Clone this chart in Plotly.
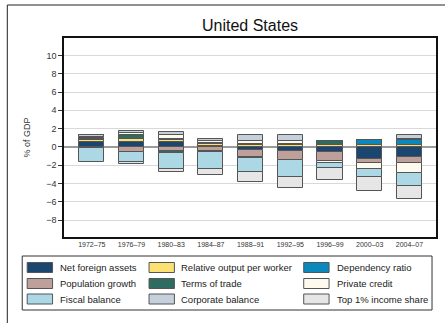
import plotly.graph_objects as go

# Contributions to the current account, % of GDP, by period
periods = ["1972–75", "1976–79", "1980–83", "1984–87", "1988–91",
           "1992–95", "1996–99", "2000–03", "2004–07"]

net_foreign_assets = [0.50, 0.55, 0.50, 0.05, -0.35, -0.45, -0.60, -1.35, -1.15]
relative_output    = [0.30, 0.30, 0.30, 0.30, 0.25, 0.20, 0.20, 0.20, 0.25]
dependency_ratio   = [0.05, 0.05, 0.10, 0.05, 0.05, 0.05, 0.05, 0.55, 0.50]
population_growth  = [-0.15, -0.60, -0.40, -0.40, -0.70, -1.00, -0.90, -0.45, -0.60]
terms_of_trade     = [0.10, 0.40, -0.30, -0.20, -0.15, 0.10, 0.35, 0.00, 0.15]
private_credit     = [0.15, 0.25, 0.35, 0.30, 0.30, 0.35, -0.25, -0.60, -1.15]
fiscal_balance     = [-1.45, -1.10, -1.70, -1.85, -1.50, -1.80, -0.50, -0.90, -1.35]
corporate_balance  = [0.25, 0.20, 0.35, 0.15, 0.65, 0.55, 0.00, 0.00, 0.35]
top1_income_share  = [0.00, -0.15, -0.30, -0.60, -1.15, -1.25, -1.40, -1.55, -1.40]

series_names = ["Net foreign assets", "Relative output per worker", "Dependency ratio",
                "Population growth", "Terms of trade", "Private credit",
                "Fiscal balance", "Corporate balance", "Top 1% income share"]
series_values = [net_foreign_assets, relative_output, dependency_ratio,
                 population_growth, terms_of_trade, private_credit,
                 fiscal_balance, corporate_balance, top1_income_share]
series_colors = ["#1b4670", "#fbe072", "#0b89bd",
                 "#bf9f9a", "#2e6b61", "#fffaee",
                 "#acd8e5", "#c6d0dc", "#e6e6e6"]

FONT = "Liberation Sans, Arial, sans-serif"
W, H = 445, 323
L, R, T, B = 64, 438, 38, 237   # plot area in pixels


def px_x(x):
    return (x - L) / (R - L)


def px_y(y):
    return (B - y) / (B - T)


fig = go.Figure()
for name, vals, col in zip(series_names, series_values, series_colors):
    fig.add_trace(go.Bar(
        x=periods, y=vals, name=name, width=0.63,
        marker=dict(color=col, line=dict(color="#555555", width=1)),
        showlegend=False,
    ))

shapes = []
annotations = []

# outer frame (top and left edges)
shapes.append(dict(type="line", xref="paper", yref="paper",
                   x0=px_x(7), x1=px_x(W + 5), y0=px_y(5), y1=px_y(5),
                   line=dict(color="#222222", width=1)))
shapes.append(dict(type="line", xref="paper", yref="paper",
                   x0=px_x(7), x1=px_x(7), y0=px_y(5), y1=px_y(H + 5),
                   line=dict(color="#222222", width=1)))

# legend box
shapes.append(dict(type="rect", xref="paper", yref="paper",
                   x0=px_x(22), x1=px_x(434), y0=px_y(310), y1=px_y(256),
                   line=dict(color="#333333", width=1), fillcolor="white"))

# legend entries: 3 columns x 3 rows, filled row by row
col_swatch_x = [27, 149.5, 305]
col_text_x = [58, 180, 336]
row_y = [267.5, 283.5, 299]
for i, (name, col) in enumerate(zip(series_names, series_colors)):
    r, c = divmod(i, 3)
    sx = col_swatch_x[c]
    cy = row_y[r]
    shapes.append(dict(type="rect", xref="paper", yref="paper",
                       x0=px_x(sx), x1=px_x(sx + 25.5),
                       y0=px_y(cy + 5), y1=px_y(cy - 5),
                       fillcolor=col, line=dict(color="#555555", width=1)))
    annotations.append(dict(xref="paper", yref="paper",
                            x=px_x(col_text_x[c]), y=px_y(cy),
                            xanchor="left", yanchor="middle", showarrow=False,
                            text=name, font=dict(family=FONT, size=9.5, color="#222222")))

fig.update_layout(
    width=W, height=H,
    margin=dict(l=L, r=W - R, t=T, b=H - B),
    paper_bgcolor="white", plot_bgcolor="white",
    barmode="relative", bargap=0,
    title=dict(text="United States", x=px_x((L + R) / 2), xref="paper", xanchor="center",
               y=1 - 25 / H, yanchor="middle",
               font=dict(family=FONT, size=16, color="#111111")),
    font=dict(family=FONT, color="#333333"),
    shapes=shapes, annotations=annotations,
)

fig.update_xaxes(
    range=[-0.7, 8.67], showgrid=False, zeroline=False,
    showline=True, linecolor="#111111", linewidth=1.5, mirror=True,
    ticks="", tickfont=dict(family=FONT, size=7, color="#333333"),
)
fig.update_yaxes(
    range=[-9.84, 11.9], tickvals=[-8, -6, -4, -2, 0, 2, 4, 6, 8, 10],
    ticktext=["−8", "−6", "−4", "−2", "0", "2", "4", "6", "8", "10"],
    showgrid=True, gridcolor="#d9d9d9", gridwidth=1,
    zeroline=True, zerolinecolor="#9a9a9a", zerolinewidth=1.5,
    showline=True, linecolor="#111111", linewidth=1.5, mirror=True,
    ticks="outside", ticklen=4, tickcolor="#333333",
    tickfont=dict(family=FONT, size=9, color="#333333"),
    title=dict(text="% of GDP", font=dict(family=FONT, size=9, color="#333333"), standoff=14),
)

fig.write_html("out.html")
